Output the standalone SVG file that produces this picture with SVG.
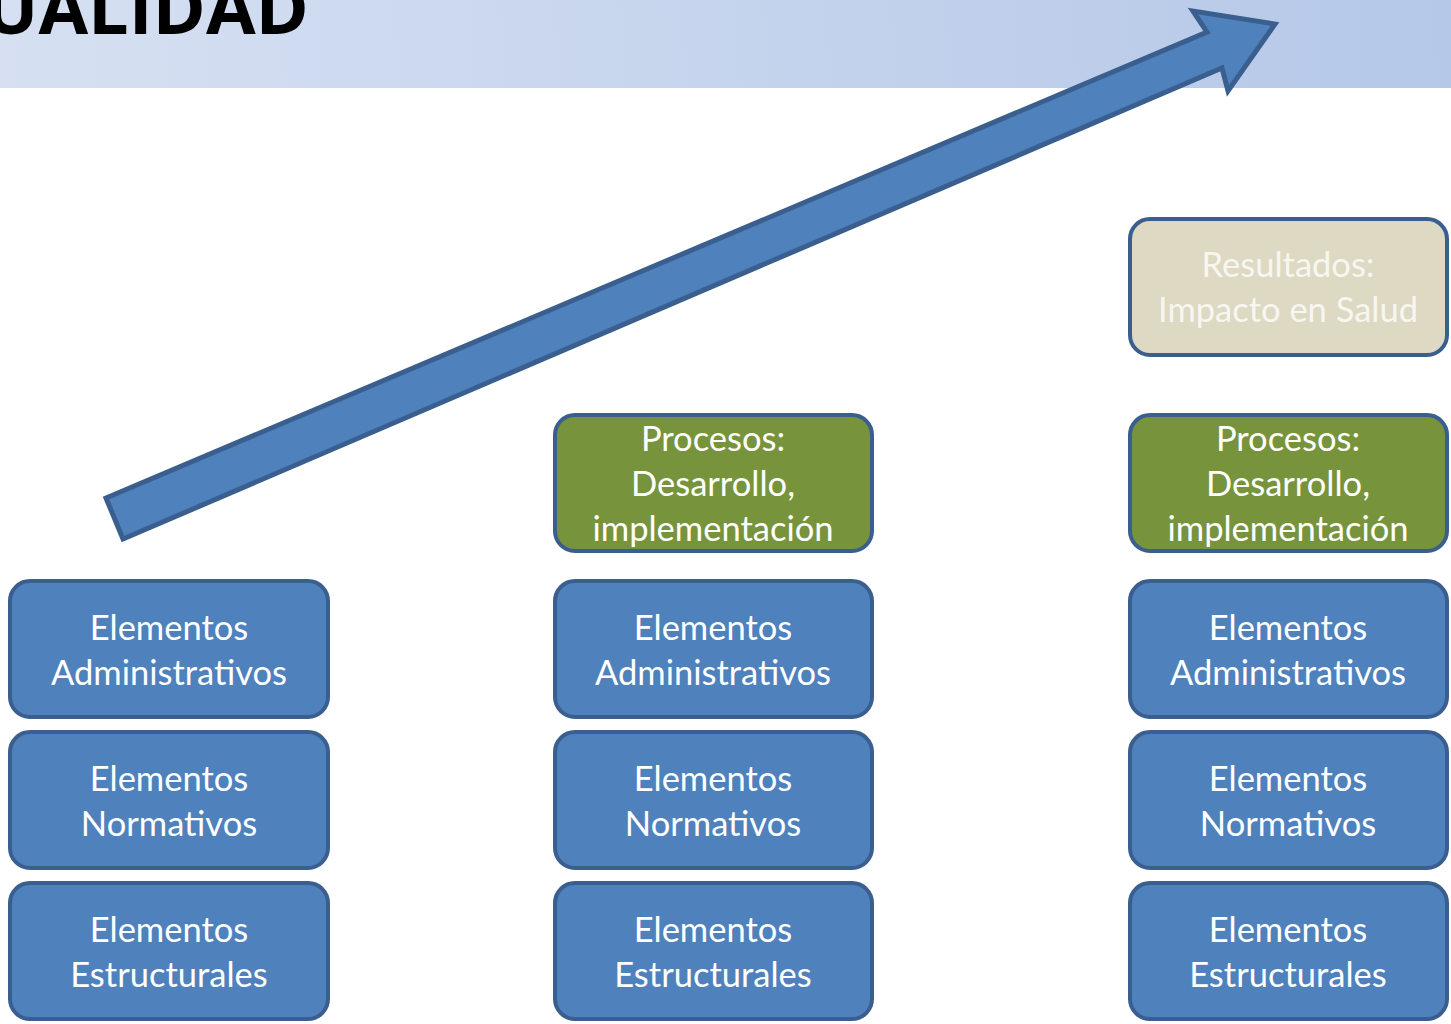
<svg xmlns="http://www.w3.org/2000/svg" width="1451" height="1024" viewBox="0 0 1451 1024">
<defs>
<linearGradient id="hdr" x1="0" y1="88" x2="1451" y2="0" gradientUnits="userSpaceOnUse">
<stop offset="0" stop-color="#d6e0f2"/>
<stop offset="1" stop-color="#b5c8e8"/>
</linearGradient>
<style>
.box{stroke:#3a5f8f;stroke-width:4}
.blue{fill:#4f81bd}
.green{fill:#77933c}
.tan{fill:#ddd9c3}
.lbl{font-family:"Lato","Open Sans",sans-serif;font-size:34.5px;fill:#ffffff;text-anchor:middle}
.lbl2{font-family:"Lato","Open Sans",sans-serif;font-size:34.5px;fill:#f8f6f0;text-anchor:middle}
</style>
</defs>
<rect x="0" y="0" width="1451" height="88" fill="url(#hdr)"/>
<text x="-16" y="34" font-family="Open Sans, sans-serif" font-weight="bold" font-size="72" fill="#000">UALIDAD</text>
<g id="connectors">
<polygon points="106,498 1207,32 1193,11 1275,24 1228,91 1222,68 123,539" fill="#4f81bd" stroke="#3a5f8f" stroke-width="5" stroke-linejoin="miter"/>
</g>
<g id="c1-admin"><rect class="box blue" x="10" y="581" width="318" height="136" rx="20"/><text class="lbl" x="169" y="640">Elementos</text><text class="lbl" x="169" y="685">Administrativos</text></g>
<g id="c1-norm"><rect class="box blue" x="10" y="732" width="318" height="136" rx="20"/><text class="lbl" x="169" y="791">Elementos</text><text class="lbl" x="169" y="836">Normativos</text></g>
<g id="c1-estr"><rect class="box blue" x="10" y="883" width="318" height="136" rx="20"/><text class="lbl" x="169" y="942">Elementos</text><text class="lbl" x="169" y="987">Estructurales</text></g>
<g id="c2-proc"><rect class="box green" x="555" y="415" width="317" height="136" rx="20"/><text class="lbl" x="713" y="451">Procesos:</text><text class="lbl" x="713" y="496">Desarrollo,</text><text class="lbl" x="713" y="541">implementación</text></g>
<g id="c2-admin"><rect class="box blue" x="555" y="581" width="317" height="136" rx="20"/><text class="lbl" x="713" y="640">Elementos</text><text class="lbl" x="713" y="685">Administrativos</text></g>
<g id="c2-norm"><rect class="box blue" x="555" y="732" width="317" height="136" rx="20"/><text class="lbl" x="713" y="791">Elementos</text><text class="lbl" x="713" y="836">Normativos</text></g>
<g id="c2-estr"><rect class="box blue" x="555" y="883" width="317" height="136" rx="20"/><text class="lbl" x="713" y="942">Elementos</text><text class="lbl" x="713" y="987">Estructurales</text></g>
<g id="c3-res"><rect class="box tan" x="1130" y="219" width="317" height="136" rx="20"/><text class="lbl2" x="1288" y="277">Resultados:</text><text class="lbl2" x="1288" y="322">Impacto en Salud</text></g>
<g id="c3-proc"><rect class="box green" x="1130" y="415" width="317" height="136" rx="20"/><text class="lbl" x="1288" y="451">Procesos:</text><text class="lbl" x="1288" y="496">Desarrollo,</text><text class="lbl" x="1288" y="541">implementación</text></g>
<g id="c3-admin"><rect class="box blue" x="1130" y="581" width="317" height="136" rx="20"/><text class="lbl" x="1288" y="640">Elementos</text><text class="lbl" x="1288" y="685">Administrativos</text></g>
<g id="c3-norm"><rect class="box blue" x="1130" y="732" width="317" height="136" rx="20"/><text class="lbl" x="1288" y="791">Elementos</text><text class="lbl" x="1288" y="836">Normativos</text></g>
<g id="c3-estr"><rect class="box blue" x="1130" y="883" width="317" height="136" rx="20"/><text class="lbl" x="1288" y="942">Elementos</text><text class="lbl" x="1288" y="987">Estructurales</text></g>
</svg>
